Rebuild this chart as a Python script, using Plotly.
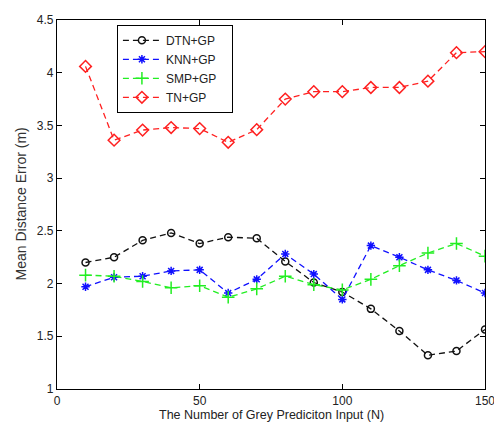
import plotly.graph_objects as go

N = [10, 20, 30, 40, 50, 60, 70, 80, 90, 100, 110, 120, 130, 140, 150]
dtn = [2.20, 2.25, 2.41, 2.48, 2.38, 2.44, 2.43, 2.21, 2.01, 1.92, 1.76, 1.55, 1.32, 1.36, 1.565]
knn = [1.97, 2.06, 2.07, 2.12, 2.13, 1.91, 2.04, 2.28, 2.09, 1.85, 2.36, 2.25, 2.13, 2.03, 1.91]
smp = [2.08, 2.07, 2.02, 1.96, 1.98, 1.87, 1.95, 2.07, 1.99, 1.94, 2.04, 2.17, 2.29, 2.38, 2.26]
tn = [4.06, 3.36, 3.456, 3.48, 3.47, 3.34, 3.46, 3.75, 3.82, 3.82, 3.86, 3.86, 3.92, 4.19, 4.20]

x_ticks = [0, 50, 100, 150]
y_ticks = [1, 1.5, 2, 2.5, 3, 3.5, 4, 4.5]
y_labels = ["1", "1.5", "2", "2.5", "3", "3.5", "4", "4.5"]
x_title = "The Number of Grey Prediciton Input (N)"
y_title = "Mean Distance Error (m)"

series = [
    ("DTN+GP", dtn, "#111111", "circle-open", 7),
    ("KNN+GP", knn, "#1010ff", "asterisk-open", 7),
    ("SMP+GP", smp, "#22ee22", "cross-thin-open", 9),
    ("TN+GP", tn, "#ff2020", "diamond-open", 9),
]

FONT = "Liberation Sans, Arial"
fig = go.Figure()
for name, vals, col, sym, sz in series:
    fig.add_trace(go.Scatter(
        x=N, y=vals, name=name + "\u00a0\u00a0\u00a0", mode="lines+markers",
        line=dict(color=col, width=1.3, dash="6px,4px"),
        marker=dict(symbol=sym, size=sz, color=col, line=dict(color=col, width=1.5)),
    ))

axis_common = dict(
    showgrid=False, zeroline=False, showline=True, mirror="ticks",
    linecolor="black", linewidth=1.2, ticks="inside", ticklen=5,
    tickcolor="black", tickfont=dict(family=FONT, size=12, color="#222"),
    ticklabeloverflow="allow", automargin=False,
)
fig.update_xaxes(range=[0, 150], tickvals=x_ticks, **axis_common)
fig.update_yaxes(range=[1, 4.5], tickvals=y_ticks, ticktext=y_labels, **axis_common)

fig.add_annotation(text=x_title, xref="paper", yref="paper", x=0.5, y=0,
                   xanchor="center", yanchor="middle", yshift=-26, showarrow=False,
                   font=dict(family=FONT, size=12.5, color="#222"))
fig.add_annotation(text=y_title, xref="paper", yref="paper", x=0, y=0.5,
                   xanchor="center", yanchor="middle", xshift=-37, textangle=-90,
                   showarrow=False, font=dict(family=FONT, size=14, color="#333"))

fig.update_layout(
    width=494, height=423,
    margin=dict(l=57, r=9, t=20, b=34),
    plot_bgcolor="white", paper_bgcolor="white",
    legend=dict(x=0.14, y=0.987, xanchor="left", yanchor="top",
                bgcolor="white", bordercolor="black", borderwidth=1,
                font=dict(family=FONT, size=12, color="#222"),
                tracegroupgap=0, itemwidth=38),
)

fig.write_html("out.html")
